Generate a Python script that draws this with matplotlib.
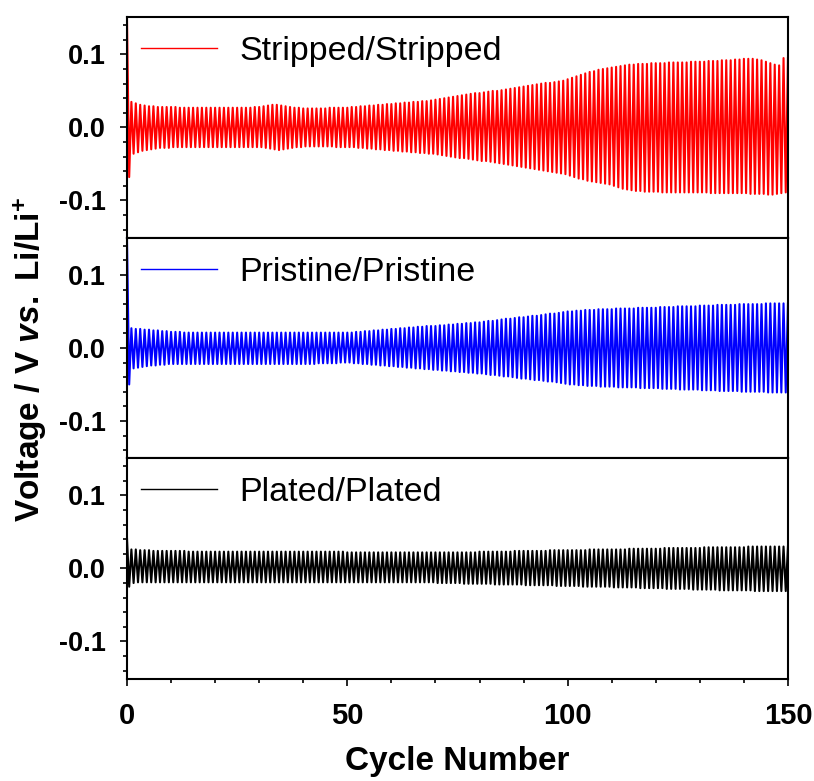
import numpy as np
import matplotlib.pyplot as plt
from matplotlib.ticker import MultipleLocator, FormatStrFormatter

plt.rcParams['font.family'] = ['Liberation Sans', 'DejaVu Sans']
plt.rcParams['axes.unicode_minus'] = False
plt.rcParams['mathtext.fontset'] = 'custom'
plt.rcParams['mathtext.rm'] = 'Liberation Sans:bold'
plt.rcParams['mathtext.it'] = 'Liberation Sans:italic:bold'
plt.rcParams['mathtext.bf'] = 'Liberation Sans:bold'

# per-cycle envelope (mV): upper = charge peak, lower = |discharge peak|
cycles = np.arange(150)

red_upper = [150, 35, 33, 31, 30, 29, 29, 28, 28, 28,
             28, 28, 27, 27, 27, 27, 27, 27, 27, 27,
             27, 27, 27, 27, 27, 27, 27, 27, 27, 28,
             28, 29, 30, 31, 31, 30, 29, 28, 27, 27,
             26, 26, 26, 26, 26, 26, 27, 27, 27, 27,
             27, 28, 28, 29, 29, 30, 30, 31, 31, 32,
             32, 33, 33, 34, 34, 35, 35, 36, 36, 37,
             38, 39, 40, 41, 42, 43, 44, 45, 46, 47,
             47, 48, 49, 50, 50, 51, 52, 53, 54, 55,
             56, 57, 58, 59, 60, 61, 61, 62, 63, 64,
             66, 68, 70, 72, 74, 76, 77, 79, 80, 81,
             82, 83, 84, 85, 86, 86, 87, 87, 87, 88,
             88, 88, 88, 89, 89, 89, 89, 89, 90, 90,
             90, 90, 91, 91, 91, 92, 92, 92, 93, 93,
             94, 94, 94, 93, 92, 90, 88, 86, 85, 95]
red_lower = [68, 36, 34, 32, 31, 30, 29, 28, 28, 28,
             27, 27, 27, 27, 27, 27, 27, 27, 27, 27,
             27, 27, 27, 27, 27, 27, 27, 27, 27, 27,
             27, 28, 29, 30, 31, 30, 29, 28, 27, 27,
             26, 26, 26, 26, 26, 26, 26, 27, 27, 27,
             27, 27, 28, 28, 29, 29, 30, 30, 31, 31,
             32, 32, 33, 33, 34, 34, 35, 35, 36, 36,
             37, 38, 39, 40, 41, 42, 42, 43, 44, 45,
             46, 46, 47, 48, 49, 50, 51, 52, 53, 54,
             55, 56, 57, 58, 59, 60, 61, 62, 63, 64,
             66, 68, 70, 71, 73, 74, 75, 76, 77, 78,
             80, 82, 84, 85, 86, 87, 87, 88, 88, 88,
             88, 89, 89, 89, 89, 89, 89, 89, 89, 89,
             89, 89, 90, 90, 90, 90, 90, 90, 90, 90,
             90, 91, 91, 91, 91, 92, 92, 91, 90, 89]

blue_upper = [150, 27, 26, 26, 25, 25, 24, 24, 23, 23,
              22, 22, 22, 21, 21, 21, 21, 21, 21, 21,
              21, 21, 21, 21, 21, 21, 21, 21, 21, 21,
              21, 21, 21, 21, 21, 21, 21, 21, 21, 21,
              21, 21, 21, 21, 21, 21, 21, 21, 21, 21,
              21, 21, 22, 22, 23, 23, 24, 24, 25, 25,
              26, 26, 27, 27, 28, 28, 29, 29, 30, 30,
              30, 31, 31, 32, 32, 33, 33, 34, 34, 35,
              35, 36, 37, 37, 38, 39, 40, 40, 41, 42,
              42, 43, 44, 44, 45, 46, 47, 47, 48, 49,
              50, 50, 51, 51, 52, 52, 52, 53, 53, 53,
              53, 54, 54, 54, 54, 54, 55, 55, 55, 55,
              55, 56, 56, 56, 56, 57, 57, 57, 57, 57,
              58, 58, 58, 58, 59, 59, 59, 59, 59, 60,
              60, 60, 60, 60, 60, 61, 61, 61, 61, 61]
blue_lower = [50, 28, 27, 26, 25, 24, 24, 23, 23, 22,
              22, 22, 22, 22, 22, 22, 22, 22, 22, 22,
              22, 22, 22, 22, 22, 22, 22, 22, 22, 22,
              22, 22, 22, 22, 22, 22, 22, 22, 22, 22,
              22, 22, 22, 21, 21, 21, 21, 21, 20, 20,
              20, 21, 21, 22, 22, 23, 23, 24, 24, 25,
              25, 26, 26, 27, 27, 28, 28, 29, 29, 30,
              30, 31, 31, 32, 32, 33, 33, 34, 34, 35,
              35, 36, 37, 37, 38, 39, 39, 40, 41, 42,
              42, 43, 44, 44, 45, 46, 46, 47, 48, 49,
              50, 50, 51, 51, 52, 52, 52, 53, 53, 53,
              53, 54, 54, 54, 54, 54, 55, 55, 55, 55,
              55, 56, 56, 56, 56, 57, 57, 57, 57, 57,
              58, 58, 58, 58, 59, 59, 59, 59, 59, 60,
              60, 60, 60, 60, 60, 61, 61, 61, 61, 61]

black_upper = [42, 26, 26, 25, 25, 25, 24, 24, 24, 24,
               24, 24, 24, 24, 23, 23, 23, 23, 23, 23,
               23, 23, 23, 23, 23, 23, 23, 23, 23, 23,
               23, 23, 23, 23, 23, 23, 23, 23, 23, 23,
               23, 23, 23, 23, 23, 23, 23, 23, 23, 23,
               22, 22, 22, 22, 22, 22, 22, 22, 22, 22,
               22, 22, 22, 22, 22, 22, 22, 22, 22, 22,
               22, 22, 22, 22, 22, 22, 22, 22, 22, 22,
               23, 23, 23, 23, 23, 23, 23, 23, 24, 24,
               24, 24, 24, 24, 24, 24, 25, 25, 25, 25,
               25, 25, 25, 25, 25, 26, 26, 26, 26, 26,
               26, 26, 26, 26, 27, 27, 27, 27, 27, 27,
               27, 27, 28, 28, 28, 28, 28, 28, 28, 28,
               28, 29, 29, 29, 29, 29, 29, 29, 29, 29,
               29, 30, 30, 30, 30, 30, 30, 30, 30, 30]
black_lower = [25, 20, 19, 19, 19, 19, 19, 19, 19, 19,
               19, 19, 19, 19, 19, 19, 19, 19, 19, 19,
               19, 19, 19, 19, 19, 19, 19, 19, 19, 19,
               19, 19, 19, 19, 19, 19, 19, 19, 19, 19,
               19, 19, 19, 19, 19, 19, 19, 19, 19, 19,
               19, 19, 19, 19, 19, 19, 19, 19, 19, 19,
               19, 19, 19, 19, 19, 19, 19, 19, 19, 19,
               20, 20, 20, 20, 20, 20, 21, 21, 21, 21,
               21, 21, 21, 22, 22, 22, 22, 22, 22, 22,
               23, 23, 23, 23, 23, 23, 23, 24, 24, 24,
               24, 24, 24, 25, 25, 25, 25, 25, 25, 25,
               26, 26, 26, 26, 26, 26, 27, 27, 27, 27,
               27, 27, 28, 28, 28, 28, 28, 28, 29, 29,
               29, 29, 29, 29, 30, 30, 30, 30, 30, 30,
               30, 30, 31, 31, 31, 31, 31, 31, 31, 31]

series = [("Stripped/Stripped", red_upper, red_lower, '#ff0000'),
          ("Pristine/Pristine", blue_upper, blue_lower, '#0000ff'),
          ("Plated/Plated", black_upper, black_lower, '#000000')]

fig, axes = plt.subplots(3, 1, figsize=(8.14, 7.81), dpi=100, sharex=True)
fig.subplots_adjust(left=0.156, right=0.968, bottom=0.131, top=0.978, hspace=0)

for ax, (name, up, low, col) in zip(axes, series):
    up = np.array(up) / 1000.0
    low = np.array(low) / 1000.0
    # one peak up and one down per cycle
    xs = np.column_stack([cycles, cycles + 0.5]).ravel()
    ys = np.column_stack([up, -low]).ravel()
    xs = np.append(xs, 150)
    ys = np.append(ys, up[-1])
    ax.plot(xs, ys, color=col, lw=1.5, label=name)

    ax.set_xlim(0, 150)
    ax.set_ylim(-0.151, 0.151)
    ax.set_yticks([-0.1, 0.0, 0.1])
    ax.yaxis.set_major_formatter(FormatStrFormatter('%.1f'))
    ax.yaxis.set_minor_locator(MultipleLocator(0.02))
    ax.xaxis.set_major_locator(MultipleLocator(50))
    ax.xaxis.set_minor_locator(MultipleLocator(10))
    ax.tick_params(which='both', direction='out', top=False, right=False, width=1.2)
    ax.tick_params(which='major', length=5)
    ax.tick_params(which='minor', length=3)
    ax.tick_params(axis='y', labelsize=19.5, pad=10)
    for lab in ax.get_yticklabels():
        lab.set_fontweight('bold')
    for s in ax.spines.values():
        s.set_linewidth(1.5)
    leg = ax.legend(loc='upper left', bbox_to_anchor=(0.0, 0.975), frameon=False,
                    fontsize=24.5, handlelength=2.25, handletextpad=0.65,
                    borderaxespad=0.1, borderpad=0.3)
    for h in leg.get_lines():
        h.set_linewidth(1.0)

axes[-1].tick_params(axis='x', labelsize=21, pad=12)
for lab in axes[-1].get_xticklabels():
    lab.set_fontweight('bold')
axes[-1].set_xlabel("Cycle Number", fontsize=24, fontweight='bold', labelpad=11)

fig.text(0.037, 0.54, r"Voltage / V $\mathit{vs.}$ Li/Li$^{\mathbf{+}}$", rotation=90,
         ha='center', va='center', fontsize=24, fontweight='bold')

fig.savefig('out.png', dpi=100)
